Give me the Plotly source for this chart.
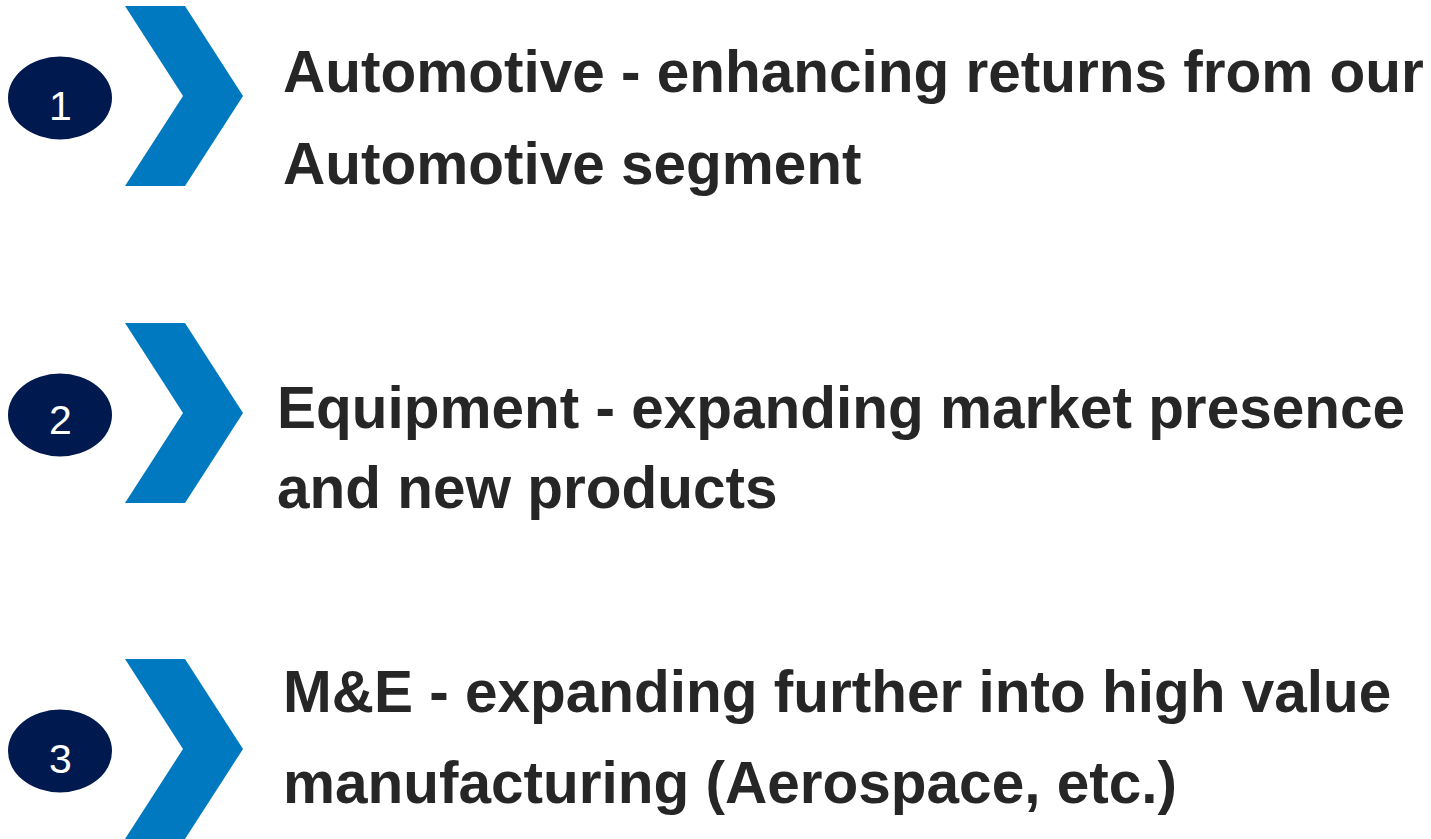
import plotly.graph_objects as go

# ---- data ----
step_numbers = ["1", "2", "3"]
line_one = [
    "Automotive - enhancing returns from our",
    "Equipment - expanding market presence",
    "M&E - expanding further into high value",
]
line_two = [
    "Automotive segment",
    "and new products",
    "manufacturing (Aerospace, etc.)",
]

# ---- layout constants ----
W, H = 1431, 839
NAVY = "#001A4F"
BLUE = "#0079C1"
TEXT = "#262626"
FONT = "Liberation Sans, Arial, sans-serif"

row_mid = [96, 413, 749]          # chevron tip level
ell_cy = [98, 415, 751]
digit_cy = [106, 420, 759]
base1 = [92, 428, 712]
base2 = [184, 508, 803]
text_x = [283, 277, 283]
FS = 58.5

fig = go.Figure()

for i in range(3):
    m = row_mid[i]
    xs = [125, 185, 243, 185, 125, 183, 125]
    ys = [m - 90, m - 90, m, m + 90, m + 90, m, m - 90]
    fig.add_trace(go.Scatter(x=xs, y=ys, mode="lines", fill="toself",
                             fillcolor=BLUE, line=dict(width=0, color=BLUE),
                             hoverinfo="skip", showlegend=False))
    fig.add_shape(type="circle", x0=8, x1=112, y0=ell_cy[i] - 41.5, y1=ell_cy[i] + 41.5,
                  fillcolor=NAVY, line=dict(width=0), layer="above")
    fig.add_annotation(x=60, y=digit_cy[i], text=step_numbers[i], showarrow=False,
                       xanchor="center", yanchor="middle",
                       font=dict(family=FONT, size=41, color="white"))
    off = 0.3465 * FS
    fig.add_annotation(x=text_x[i] - 2, y=base1[i] - off, text="<b>%s</b>" % line_one[i],
                       showarrow=False, xanchor="left", yanchor="middle",
                       font=dict(family=FONT, size=FS, color=TEXT))
    fig.add_annotation(x=text_x[i] - 2, y=base2[i] - off, text="<b>%s</b>" % line_two[i],
                       showarrow=False, xanchor="left", yanchor="middle",
                       font=dict(family=FONT, size=FS, color=TEXT))

fig.update_layout(
    width=W, height=H,
    margin=dict(l=0, r=0, t=0, b=0),
    paper_bgcolor="white", plot_bgcolor="white",
    xaxis=dict(range=[0, W], visible=False, fixedrange=True),
    yaxis=dict(range=[H, 0], visible=False, fixedrange=True),
    showlegend=False,
)

fig.write_html("out.html", config={"displayModeBar": False},
               post_script="document.body.style.margin='0';document.body.style.overflow='hidden';")
